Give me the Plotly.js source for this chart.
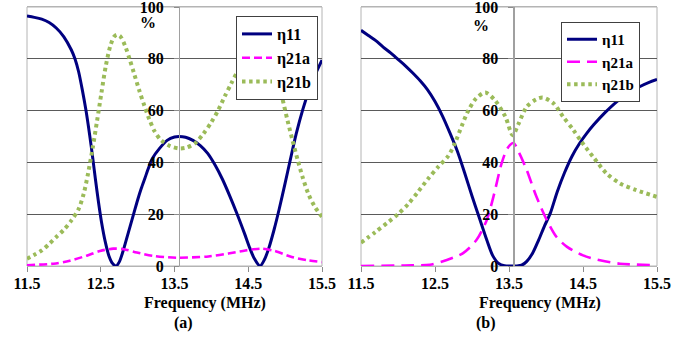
<!DOCTYPE html>
<html>
<head>
<meta charset="utf-8">
<script src="https://cdn.plot.ly/plotly-3.0.1.min.js"></script>
<style>html,body{margin:0;padding:0;background:#fff;}#chart{width:697px;height:339px;}</style>
</head>
<body>
<div id="chart"></div>
<script>
// ---------- data (a) ----------
const a_h11_f = [11.5,11.6,11.7,11.8,11.9,12.0,12.1,12.15,12.2,12.25,12.3,12.35,12.39,12.43,12.47,12.51,12.56,12.61,12.66,12.707,12.75,12.8,12.85,12.9,12.95,13.0,13.05,13.1,13.15,13.2,13.3,13.4,13.5,13.56,13.65,13.75,13.85,13.95,14.05,14.15,14.25,14.35,14.45,14.52,14.58,14.66,14.72,14.78,14.85,14.92,15.0,15.07,15.15,15.24,15.32,15.41,15.5];
const a_h11_v = [96.5,96,95.3,94,91.8,88.5,83.5,80,75,68,60,50.5,42,33,24.5,17,9.5,4,1,0,1.5,5.5,10.5,15.5,20.5,25.5,30,34,38,41.5,45.5,48.5,49.8,50,49.7,48.5,46.5,43.5,39,33.5,27,20,12.5,7,3,0,2.5,7,14,22,32,41,51,60.5,67.5,74,79.5];

const a_h21a_f = [11.5,11.86,12.08,12.31,12.49,12.67,12.81,12.99,13.21,13.53,13.96,14.23,14.46,14.68,14.86,15.09,15.31,15.5];
const a_h21a_v = [0.3,0.9,2,4,5.8,6.7,6.5,5.2,3.9,3.2,3.7,4.8,6,6.7,5.8,3.5,2.2,1.5];

const a_h21b_f = [11.5,11.6,11.7,11.8,11.9,12.0,12.1,12.2,12.27,12.33,12.39,12.45,12.51,12.57,12.63,12.68,12.72,12.77,12.83,12.89,12.95,13.02,13.09,13.16,13.23,13.32,13.44,13.56,13.66,13.78,13.89,14.0,14.09,14.18,14.27,14.36,14.45,14.54,14.63,14.72,14.81,14.89,14.96,15.03,15.1,15.17,15.24,15.32,15.41,15.5];
const a_h21b_v = [2.8,4.3,6,8.5,11.3,14,17.5,22,28,36,45.5,56,67,77.5,85,88.5,89.3,88.5,85,80,74.5,68,62,56.5,52,48.5,46.3,45.4,45.7,47.4,51,55.5,60,65.4,70.5,75.5,80.5,84.5,86,84.5,79.5,72.5,65,56.5,48.5,41,34,27.5,22.5,19];

// ---------- data (b) ----------
const b_h11_f = [11.5,11.6,11.7,11.8,11.9,12.0,12.1,12.2,12.3,12.4,12.5,12.6,12.7,12.8,12.9,13.0,13.1,13.2,13.28,13.36,13.44,13.52,13.6,13.67,13.74,13.82,13.9,13.98,14.06,14.15,14.25,14.35,14.45,14.55,14.65,14.8,14.95,15.1,15.25,15.4,15.5];
const b_h11_v = [91,89,87,84.5,82.3,79.8,77.3,74.5,71.5,68,63.5,58,51.5,44.5,36,27,18.5,10,4,1,0.1,0,0,0.3,1.8,5,10,15.5,20.5,28.5,36,42.3,47.2,51.2,54.7,59.3,63.3,66.5,69,71,72];

const b_h21a_f = [11.5,12.09,12.43,12.66,12.88,13.06,13.20,13.29,13.40,13.48,13.56,13.64,13.74,13.87,14.01,14.14,14.28,14.5,14.73,15.0,15.5];
const b_h21a_v = [0,0.2,0.5,2.3,5,10,17.8,26.8,39.6,45.5,47.5,43.5,37,26.8,17.8,11.3,7.5,4.1,2.2,0.9,0.3];

const b_h21b_f = [11.5,11.69,11.87,12.0,12.14,12.27,12.41,12.55,12.68,12.77,12.86,12.95,13.05,13.18,13.31,13.45,13.55,13.63,13.74,13.87,13.96,14.1,14.23,14.37,14.48,14.64,14.82,15.0,15.22,15.5];
const b_h21b_v = [9,13,17,20,24,28.6,33.8,38.5,42.5,47.5,54,60,64.5,67,64,57.7,50.5,55,61.5,64.4,65,62.8,57.7,52.5,48,42,35.7,31.9,29.3,26.7];

const names = ["η11","η21a","η21b"];
const xTicks = [11.5,12.5,13.5,14.5,15.5];
const yTicks = [0,20,40,60,80,100];
const panelLabels = ["(a)","(b)"];
const xTitle = "Frequency (MHz)";
const AXIS_CROSS = 13.56;

// ---------- styling ----------
const W = 697, H = 339;
const FONT = "Liberation Serif";
const navy = "#000080", magenta = "#ff00ff", green = "#9bbb59";
const domA = [27/W, 322/W], domB = [361/W, 657/W];
const posOf = d => d[0] + (AXIS_CROSS - 11.5) / 4 * (d[1] - d[0]);

function tr(x, y, name, color, dash, width, xa, ya, leg) {
  return {x: x, y: y, name: name, type: "scatter", mode: "lines",
    line: {color: color, width: width, dash: dash, shape: "spline", smoothing: 0.8},
    xaxis: xa, yaxis: ya, legend: leg, hoverinfo: "skip"};
}

const data = [
  tr(a_h11_f, a_h11_v, names[0], navy, "solid", 3, "x", "y", "legend"),
  tr(a_h21a_f, a_h21a_v, names[1], magenta, "8px,4px", 2.6, "x", "y", "legend"),
  tr(a_h21b_f, a_h21b_v, names[2], green, "3.5px,3.6px", 4, "x", "y", "legend"),
  tr(b_h11_f, b_h11_v, names[0], navy, "solid", 3, "x2", "y2", "legend2"),
  tr(b_h21a_f, b_h21a_v, names[1], magenta, "13px,7px", 2.6, "x2", "y2", "legend2"),
  tr(b_h21b_f, b_h21b_v, names[2], green, "3.5px,3.6px", 4, "x2", "y2", "legend2")
];

const tickFont = {family: FONT, size: 16, color: "#000", weight: "bold"};
function xax(dom, anchor) {
  return {domain: dom, anchor: anchor, range: [11.5, 15.5], tickvals: xTicks,
    ticktext: xTicks.map(v => v.toFixed(1)), ticks: "outside", ticklen: 5,
    tickcolor: "#8c8c8c", showline: true, mirror: true, linecolor: "#b4b4b4", linewidth: 1,
    showgrid: false, zeroline: false, tickfont: tickFont, ticklabelstandoff: -2, fixedrange: true};
}
function yax(dom) {
  return {domain: [0, 1], anchor: "free", position: posOf(dom), range: [0, 100],
    tickvals: yTicks, ticks: "outside", ticklen: 5, tickcolor: "#8c8c8c",
    showline: true, linecolor: "#a0a0a0", linewidth: 1.3, showgrid: true,
    gridcolor: "#5a5a5a", gridwidth: 1, zeroline: false, tickfont: tickFont,
    ticklabelstandoff: 7, ticklabeloverflow: "allow", fixedrange: true};
}
function border(xr, yr) {
  return {type: "rect", xref: xr + " domain", yref: yr + " domain", x0: 0, x1: 1, y0: 0, y1: 1,
    line: {color: "#b4b4b4", width: 1}, layer: "below"};
}
const annFont = {family: FONT, size: 16, color: "#000", weight: "bold"};
function ann(text, px, py) {
  return {text: text, xref: "paper", yref: "paper", x: px / W, y: (266 - py) / 259,
    xanchor: "center", yanchor: "middle", showarrow: false, font: annFont};
}
function legendCfg(xr, yt, size) {
  return {x: xr / W, xanchor: "right", y: (266 - yt) / 259, yanchor: "top",
    bgcolor: "#fff", bordercolor: "#404040", borderwidth: 1,
    font: {family: FONT, size: size, color: "#000", weight: "bold"},
    tracegroupgap: 0, itemwidth: 30};
}

const layout = {
  width: W, height: H,
  margin: {l: 0, r: 0, t: 7, b: 73},
  paper_bgcolor: "#fff", plot_bgcolor: "#fff",
  showlegend: true,
  font: {family: FONT, size: 16, color: "#000", weight: "bold"},
  xaxis: xax(domA, "y"), yaxis: yax(domA),
  xaxis2: xax(domB, "y2"), yaxis2: yax(domB),
  legend: legendCfg(318, 16, 16),
  legend2: legendCfg(640, 22, 15),
  shapes: [border("x", "y"), border("x2", "y2")],
  annotations: [
    ann("%", 148, 23), ann("%", 481, 26),
    ann(xTitle, 205, 303), ann(panelLabels[0], 183, 323),
    ann(xTitle, 540, 303), ann(panelLabels[1], 486, 323)
  ]
};

Plotly.newPlot("chart", data, layout, {staticPlot: true, displayModeBar: false});
</script>
</body>
</html>
